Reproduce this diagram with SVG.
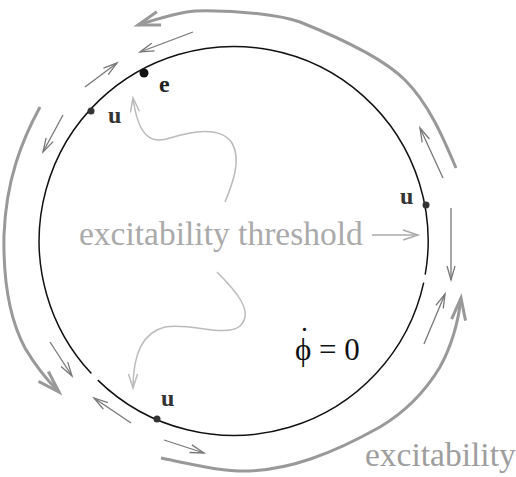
<svg xmlns="http://www.w3.org/2000/svg" width="516" height="477" viewBox="0 0 516 477">
<style>
.serif{font-family:"Liberation Serif","Times New Roman",serif}
.lbl{font-family:"Liberation Serif","Times New Roman",serif;font-weight:bold;font-size:24px;fill:#333}
.thin{fill:none;stroke:#777;stroke-width:1.3;marker-end:url(#ah)}
.thick{fill:none;stroke:#999;stroke-width:3;marker-end:url(#ahThick)}
.squig{fill:none;stroke:#bbb;stroke-width:1.5;marker-end:url(#ahLight)}
.dot{fill:#333}
</style>
<defs>
<marker id="ah" markerUnits="userSpaceOnUse" orient="auto" overflow="visible" refX="0" refY="0" markerWidth="1" markerHeight="1"><path d="M-14,-4 L0,0 L-14,4" fill="none" stroke="#777" stroke-width="1.3"/></marker>
<marker id="ahThick" markerUnits="userSpaceOnUse" orient="auto" overflow="visible" refX="0" refY="0" markerWidth="1" markerHeight="1"><path d="M-22,-7 L0,0 L-22,7" fill="none" stroke="#999" stroke-width="3"/></marker>
<marker id="ahLight" markerUnits="userSpaceOnUse" orient="auto" overflow="visible" refX="0" refY="0" markerWidth="1" markerHeight="1"><path d="M-14,-4.5 L0,0 L-14,4.5" fill="none" stroke="#bbb" stroke-width="1.5"/></marker>
<marker id="ahText" markerUnits="userSpaceOnUse" orient="auto" overflow="visible" refX="0" refY="0" markerWidth="1" markerHeight="1"><path d="M-15,-5 L0,0 L-15,5" fill="none" stroke="#aaa" stroke-width="1.5"/></marker>
</defs>
<rect width="516" height="477" fill="#fff"/>
<g id="nullcline">
<path d="M423.7,282.7 A194.5,194.5 0 0 1 97.8,380.1" fill="none" stroke="#111" stroke-width="1.5"/>
<path d="M91.4,373.6 A194.5,194.5 0 1 1 425.2,274.7" fill="none" stroke="#111" stroke-width="1.5"/>
</g>
<g id="point-e"><circle cx="144" cy="73" r="4.5" fill="#111"/><text class="lbl" x="159" y="92" style="fill:#222">e</text></g>
<g id="point-u1"><circle class="dot" cx="91" cy="111" r="3.5"/><text class="lbl" x="108" y="123">u</text></g>
<g id="point-u2"><circle class="dot" cx="426" cy="205" r="3.5"/><text class="lbl" x="400" y="204">u</text></g>
<g id="point-u3"><circle class="dot" cx="157" cy="419" r="3.5"/><text class="lbl" x="161" y="406">u</text></g>
<g id="label-threshold"><text class="serif" x="79" y="245" font-size="33.5" fill="#aaa">excitability threshold</text></g>
<g id="label-excitability"><text class="serif" x="365" y="466" font-size="33.5" fill="#9e9e9e">excitability</text></g>
<g id="label-phidot"><text class="serif" x="295" y="360" font-size="31" fill="#111">ϕ = 0</text><text class="serif" x="304.5" y="348.5" font-size="31" fill="#111" text-anchor="middle">˙</text></g>
<g id="connectors">
<path class="thick" d="M456,168 C445,142 430,105 405,80 C385,60 350,42 300,22 C280,15 240,10 195,11 C180,12 160,18 138,25"/>
<path class="thick" d="M40,107 C22,140 6,180 4,235 C3,285 10,320 25,348 C35,365 45,378 59,392"/>
<path class="thick" d="M161,458 C200,466 225,472 250,471 C290,469 330,455 380,427 C405,412 425,392 440,367 C452,345 458,325 461,298"/>
<path class="thin" d="M193,32 L140,52"/>
<path class="thin" d="M85,87 L117,63"/>
<path class="thin" d="M63,115 L43,152"/>
<path class="thin" d="M443,178 L420,128"/>
<path class="thin" d="M451,208 L451,280"/>
<path class="thin" d="M424,344 L445,294"/>
<path class="thin" d="M50,342 L72,376"/>
<path class="thin" d="M131,423 L94,398"/>
<path class="thin" d="M164,440 L204,453"/>
<path class="squig" d="M225,202 C232,185 242,160 232,143 C220,125 190,132 170,138 C150,145 138,135 133,98"/>
<path class="squig" d="M217,272 C235,290 255,312 240,326 C225,338 190,322 165,327 C140,333 133,360 133,388"/>
<path d="M372,235 L418,235" fill="none" stroke="#aaa" stroke-width="1.5" marker-end="url(#ahText)"/>
</g>
</svg>
